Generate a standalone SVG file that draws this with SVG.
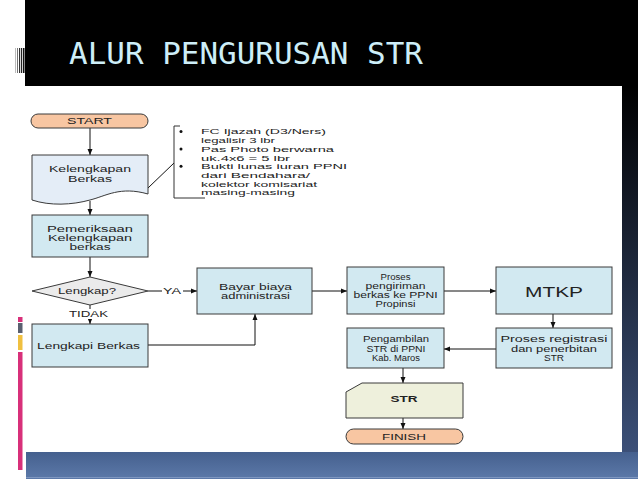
<svg xmlns="http://www.w3.org/2000/svg" width="638" height="479" viewBox="0 0 638 479">
<defs>
<style>
.box{fill:#d2e9f1;stroke:#3a3a3a;stroke-width:1}
.term{fill:#f8c6a2;stroke:#3a3a3a;stroke-width:1}
.t{font-family:"Liberation Sans",Arial,sans-serif;font-size:8.5px;fill:#222;text-anchor:middle}
.c{font-family:"Liberation Sans",Arial,sans-serif;font-size:8px;fill:#222}
.ln{fill:none;stroke:#111;stroke-width:1}
</style>
<marker id="ah" markerUnits="userSpaceOnUse" markerWidth="7" markerHeight="6" refX="6" refY="3" orient="auto">
<path d="M0,0.5 L6,3 L0,5.5 Z" fill="#111"/>
</marker>
<linearGradient id="rb" x1="0" y1="0" x2="0" y2="1">
<stop offset="0" stop-color="#000"/>
<stop offset="1" stop-color="#3c5078"/>
</linearGradient>
<linearGradient id="bb" x1="0" y1="0" x2="0" y2="1">
<stop offset="0" stop-color="#45608e"/>
<stop offset="1" stop-color="#5c79a9"/>
</linearGradient>
</defs>
<rect width="638" height="479" fill="#fff"/>
<g id="frame">
<rect x="25" y="0" width="613" height="86" fill="#000"/>
<rect x="622" y="86" width="16" height="366" fill="url(#rb)"/>
<rect x="26" y="452" width="612" height="27" fill="url(#bb)"/>
<rect x="26" y="477" width="612" height="1" fill="#7f97c0"/>
<rect x="15" y="48" width="1" height="25" fill="#bbb"/>
<rect x="17" y="48" width="1" height="25" fill="#777"/>
<rect x="19" y="48" width="1.2" height="25" fill="#333"/>
<rect x="21" y="48" width="1.2" height="25" fill="#222"/>
<rect x="23" y="48" width="1.5" height="25" fill="#111"/>
<rect x="18" y="317" width="4.5" height="5" fill="#d8307a"/>
<rect x="18" y="323" width="4.5" height="10" fill="#5a6070"/>
<rect x="18" y="335" width="4.5" height="15" fill="#f0c040"/>
<rect x="18" y="352" width="4.5" height="118" fill="#d8307a"/>
<text x="69" y="64" font-family="'DejaVu Sans Mono','Liberation Mono',monospace" font-size="31" fill="#cdeef8" textLength="354" lengthAdjust="spacingAndGlyphs">ALUR PENGURUSAN STR</text>
</g>
<g id="connectors">
<line class="ln" x1="90" y1="128" x2="90" y2="155" marker-end="url(#ah)"/>
<line class="ln" x1="90" y1="201" x2="90" y2="215" marker-end="url(#ah)"/>
<line class="ln" x1="90" y1="257" x2="90" y2="277" marker-end="url(#ah)"/>
<line class="ln" x1="90" y1="305" x2="90" y2="324" marker-end="url(#ah)"/>
<line class="ln" x1="148" y1="291" x2="197" y2="291" marker-end="url(#ah)"/>
<polyline class="ln" points="148,345 255,345 255,314" marker-end="url(#ah)"/>
<line class="ln" x1="312" y1="291" x2="347" y2="291" marker-end="url(#ah)"/>
<line class="ln" x1="444" y1="291" x2="496" y2="291" marker-end="url(#ah)"/>
<line class="ln" x1="553" y1="314" x2="553" y2="328" marker-end="url(#ah)"/>
<line class="ln" x1="496" y1="349" x2="444" y2="349" marker-end="url(#ah)"/>
<line class="ln" x1="403" y1="368" x2="403" y2="383" marker-end="url(#ah)"/>
<line class="ln" x1="403" y1="418" x2="403" y2="429" marker-end="url(#ah)"/>
<line class="ln" x1="148" y1="188" x2="174" y2="163" stroke="#444"/>
<rect x="68" y="309" width="42" height="10" fill="#fff"/>
<text class="t" x="88.5" y="317" textLength="39" lengthAdjust="spacingAndGlyphs">TIDAK</text>
<rect x="162" y="286" width="21" height="10" fill="#fff"/>
<text class="t" x="172" y="294" textLength="18" lengthAdjust="spacingAndGlyphs">YA</text>
</g>
<g id="start">
<rect class="term" x="31" y="114" width="117" height="14" rx="7"/>
<text class="t" x="89.5" y="124" textLength="45" lengthAdjust="spacingAndGlyphs">START</text>
</g>
<g id="kelengkapan">
<path d="M32,155 H148 V194 C120,186 106,196 90,200 C72,205 50,206 32,200 Z" fill="#e4edf7" stroke="#3a3a3a"/>
<text class="t" x="90" y="172" textLength="82" lengthAdjust="spacingAndGlyphs">Kelengkapan</text>
<text class="t" x="90" y="182" textLength="44" lengthAdjust="spacingAndGlyphs">Berkas</text>
</g>
<g id="callout">
<polyline points="180,126 174,126 174,198 205,198" fill="none" stroke="#333"/>
<circle cx="181" cy="131.5" r="1.5" fill="#111"/>
<circle cx="181" cy="148.9" r="1.5" fill="#111"/>
<circle cx="181" cy="166.3" r="1.5" fill="#111"/>
<text class="c" x="201" y="134.4" textLength="125" lengthAdjust="spacingAndGlyphs">FC Ijazah (D3/Ners)</text>
<text class="c" x="201" y="143.1" textLength="74" lengthAdjust="spacingAndGlyphs">legalisir 3 lbr</text>
<text class="c" x="201" y="151.8" textLength="133" lengthAdjust="spacingAndGlyphs">Pas Photo berwarna</text>
<text class="c" x="201" y="160.5" textLength="89" lengthAdjust="spacingAndGlyphs">uk.4x6 = 5 lbr</text>
<text class="c" x="201" y="169.2" textLength="146" lengthAdjust="spacingAndGlyphs">Bukti lunas iuran PPNI</text>
<text class="c" x="201" y="177.9" textLength="109" lengthAdjust="spacingAndGlyphs">dari Bendahara/</text>
<text class="c" x="201" y="186.6" textLength="116" lengthAdjust="spacingAndGlyphs">kolektor komisariat</text>
<text class="c" x="201" y="195.3" textLength="94" lengthAdjust="spacingAndGlyphs">masing-masing</text>
</g>
<g id="pemeriksaan">
<rect class="box" x="32" y="215" width="116" height="42"/>
<text class="t" x="90" y="231.5" textLength="86" lengthAdjust="spacingAndGlyphs">Pemeriksaan</text>
<text class="t" x="90" y="240.5" textLength="84" lengthAdjust="spacingAndGlyphs">Kelengkapan</text>
<text class="t" x="90" y="249.5" textLength="41" lengthAdjust="spacingAndGlyphs">berkas</text>
</g>
<g id="lengkap">
<polygon points="32,291 90,277 148,291 90,305" fill="#ebebeb" stroke="#3a3a3a"/>
<text class="t" x="87" y="294" textLength="58" lengthAdjust="spacingAndGlyphs">Lengkap?</text>
</g>
<g id="lengkapi">
<rect class="box" x="32" y="324" width="116" height="43"/>
<text class="t" x="88.5" y="349" textLength="103" lengthAdjust="spacingAndGlyphs">Lengkapi Berkas</text>
</g>
<g id="bayar">
<rect class="box" x="197" y="268" width="115" height="46"/>
<text class="t" x="255.5" y="289.5" textLength="73" lengthAdjust="spacingAndGlyphs">Bayar biaya</text>
<text class="t" x="255.5" y="298.5" textLength="69" lengthAdjust="spacingAndGlyphs">administrasi</text>
</g>
<g id="proses">
<rect class="box" x="347" y="267" width="97" height="47"/>
<text class="t" x="395.5" y="280" textLength="30" lengthAdjust="spacingAndGlyphs">Proses</text>
<text class="t" x="395.5" y="289" textLength="60" lengthAdjust="spacingAndGlyphs">pengiriman</text>
<text class="t" x="395.5" y="298" textLength="84" lengthAdjust="spacingAndGlyphs">berkas ke PPNI</text>
<text class="t" x="395.5" y="307" textLength="40" lengthAdjust="spacingAndGlyphs">Propinsi</text>
</g>
<g id="mtkp">
<rect class="box" x="496" y="267" width="116" height="47"/>
<text class="t" x="554" y="297" textLength="58" lengthAdjust="spacingAndGlyphs" style="font-size:14px">MTKP</text>
</g>
<g id="registrasi">
<rect class="box" x="496" y="328" width="116" height="40"/>
<text class="t" x="554" y="342" textLength="107" lengthAdjust="spacingAndGlyphs">Proses registrasi</text>
<text class="t" x="554" y="351.5" textLength="86" lengthAdjust="spacingAndGlyphs">dan penerbitan</text>
<text class="t" x="554" y="361" textLength="20" lengthAdjust="spacingAndGlyphs">STR</text>
</g>
<g id="pengambilan">
<rect class="box" x="347" y="328" width="97" height="40"/>
<text class="t" x="396" y="342" textLength="66" lengthAdjust="spacingAndGlyphs">Pengambilan</text>
<text class="t" x="396" y="351.5" textLength="59" lengthAdjust="spacingAndGlyphs">STR di PPNI</text>
<text class="t" x="396" y="361" textLength="48" lengthAdjust="spacingAndGlyphs">Kab. Maros</text>
</g>
<g id="str">
<path d="M346,392 L362,383 H463 V418 H346 Z" fill="#eef0dc" stroke="#3a3a3a"/>
<text class="t" x="404" y="402.3" font-weight="bold" textLength="27" lengthAdjust="spacingAndGlyphs">STR</text>
</g>
<g id="finish">
<rect class="term" x="346" y="429" width="117" height="15" rx="7.5"/>
<text class="t" x="404" y="440" textLength="44" lengthAdjust="spacingAndGlyphs">FINISH</text>
</g>
</svg>
